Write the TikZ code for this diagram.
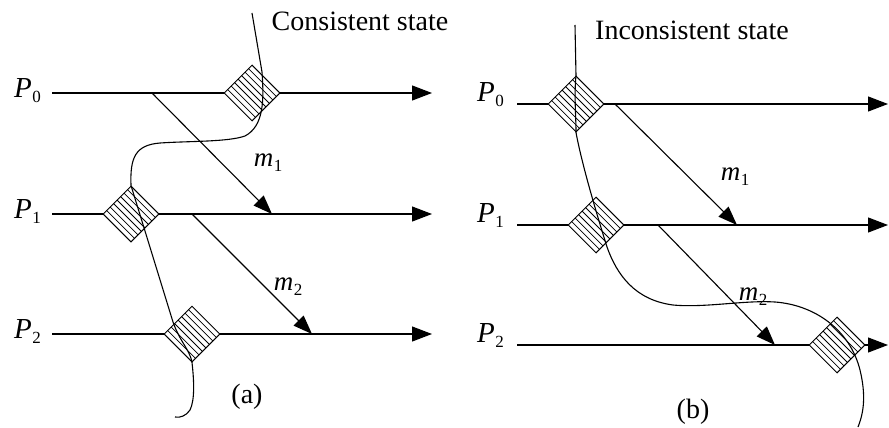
\documentclass[tikz,border=0pt]{standalone}
\usepackage{fontspec}
\setmainfont{Liberation Serif}
\usetikzlibrary{arrows.meta,shapes.geometric,calc}
\newcommand{\procl}[1]{\textit{P}\kern0.5pt\raisebox{-0.45ex}{\fontsize{17}{17}\selectfont #1}}
\newcommand{\msgl}[1]{\textit{m}\kern0.5pt\raisebox{-0.4ex}{\fontsize{17}{17}\selectfont #1}}
\tikzset{
  proc/.style={line width=1.1pt, -{Triangle[length=20pt,width=15pt]}},
  msg/.style={line width=1.1pt, -{Triangle[length=19pt,width=14pt]}},
  cut/.style={line width=1.1pt},
  ckpt/.style={diamond, draw, line width=1pt, fill=white, inner sep=0pt,
    minimum width=56pt, minimum height=56pt,
    path picture={\foreach \t in {0.125,0.25,0.375,0.5,0.625,0.75,0.875}
      \draw[line width=0.8pt] ($(path picture bounding box.west)!\t!(path picture bounding box.north)$)
        -- ($(path picture bounding box.south)!\t!(path picture bounding box.east)$);}},
  plabel/.style={anchor=base east, inner sep=0pt, font=\fontsize{29}{29}\selectfont},
  mlabel/.style={inner sep=0pt, font=\fontsize{27}{27}\selectfont},
  title/.style={inner sep=0pt, font=\fontsize{28}{28}\selectfont},
  panelcap/.style={inner sep=0pt, font=\fontsize{28}{28}\selectfont}
}
\begin{document}
\begin{tikzpicture}[x=1pt,y=-1pt]
\useasboundingbox (0,0) rectangle (889,428);
% ---------- panel (a)
\node[plabel] (pa0) at (41,97) {\procl{0}};
\node[plabel] (pa1) at (41,218) {\procl{1}};
\node[plabel] (pa2) at (41,338) {\procl{2}};
\coordinate (sa0) at (52,93);  \coordinate (ea0) at (432,93);
\coordinate (sa1) at (52,214); \coordinate (ea1) at (432,214);
\coordinate (sa2) at (52,334); \coordinate (ea2) at (432,334);
\draw[proc] (sa0) -- (ea0);
\draw[proc] (sa1) -- (ea1);
\draw[proc] (sa2) -- (ea2);
\node[ckpt] (a0) at (252,93) {};
\node[ckpt] (a1) at (131,214) {};
\node[ckpt] (a2) at (192,334) {};
\coordinate (ma1s) at (152,93);  \coordinate (ma1e) at (272,214);
\coordinate (ma2s) at (192,214); \coordinate (ma2e) at (312,334);
\draw[msg] (ma1s) -- (ma1e);
\draw[msg] (ma2s) -- (ma2e);
\node[mlabel] (la1) at (268,163) {\msgl{1}};
\node[mlabel] (la2) at (288,287) {\msgl{2}};
\coordinate (ca0) at (252,13);
\coordinate (ca1) at (175,417);
\draw[cut] (ca0) -- (262,72) .. controls (264,100) and (264,126) .. (245,136)
  .. controls (228,142) and (190,141) .. (160,143)
  .. controls (135,145) and (130,158) .. (a1.north) -- (173,322)
  .. controls (180,342) and (190,350) .. (a2.south)
  .. controls (194,380) and (195,400) .. (190,410)
  .. controls (186,416) and (180,418) .. (ca1);
\node[title] (ta) at (360,21) {Consistent state};
\node[panelcap] (capa) at (247,397) {(a)};
% ---------- panel (b)
\node[plabel] (pb0) at (504,101) {\procl{0}};
\node[plabel] (pb1) at (504,222) {\procl{1}};
\node[plabel] (pb2) at (504,342) {\procl{2}};
\coordinate (sb0) at (517,104); \coordinate (eb0) at (888,104);
\coordinate (sb1) at (517,225); \coordinate (eb1) at (888,225);
\coordinate (sb2) at (517,345); \coordinate (eb2) at (888,345);
\draw[proc] (sb0) -- (eb0);
\draw[proc] (sb1) -- (eb1);
\draw[proc] (sb2) -- (eb2);
\node[ckpt] (b0) at (576,104) {};
\node[ckpt] (b1) at (596,225) {};
\node[ckpt] (b2) at (837,345) {};
\coordinate (mb1s) at (615,104); \coordinate (mb1e) at (737,225);
\coordinate (mb2s) at (658,225); \coordinate (mb2e) at (775,345);
\draw[msg] (mb1s) -- (mb1e);
\draw[msg] (mb2s) -- (mb2e);
\node[mlabel] (lb1) at (735,177) {\msgl{1}};
\node[mlabel] (lb2) at (753,297) {\msgl{2}};
\coordinate (cb0) at (575,25);
\coordinate (cb1) at (858,427);
\draw[cut] (cb0) -- (b0.north) .. controls (574,95) and (576,115) .. (b0.south)
  .. controls (582,165) and (597,215) .. (607,247)
  .. controls (617,275) and (635,300) .. (673,305)
  .. controls (705,308) and (745,300) .. (775,302)
  .. controls (815,305) and (850,330) .. (860,370)
  .. controls (866,395) and (864,412) .. (cb1);
\node[title] (tb) at (692,30) {Inconsistent state};
\node[panelcap] (capb) at (693,412) {(b)};
\end{tikzpicture}
\end{document}
